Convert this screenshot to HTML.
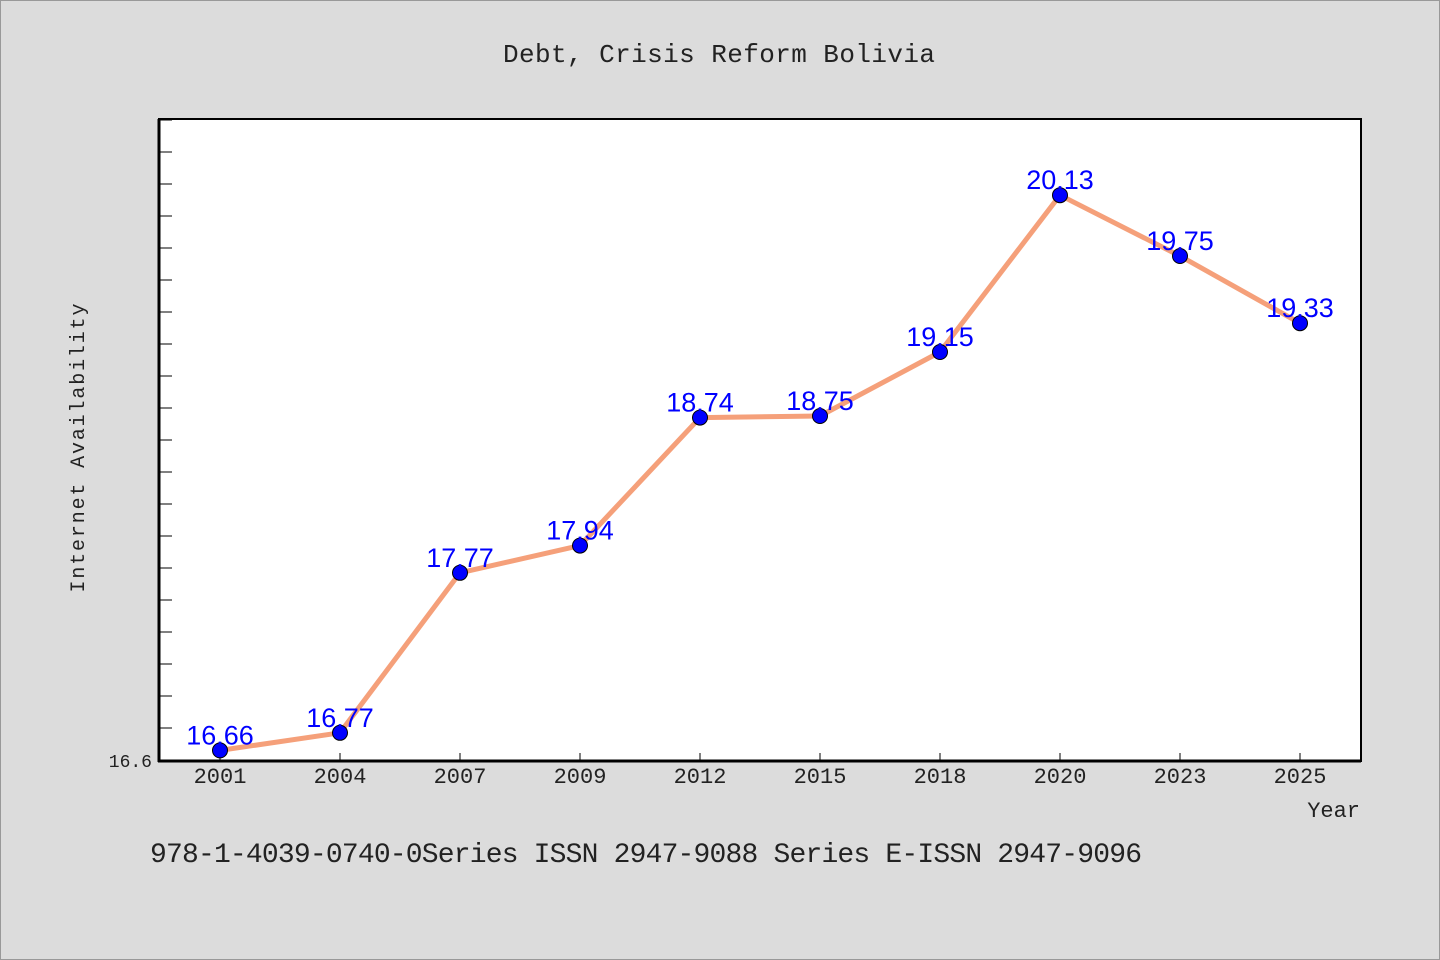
<!DOCTYPE html>
<html><head><meta charset="utf-8"><style>
html,body{margin:0;padding:0;background:#dcdcdc;}
svg{display:block;}
.m{font-family:"WenQuanYi Zen Hei","Liberation Mono",monospace;fill:#222;}
.lbl{font-family:"Liberation Sans","DejaVu Sans",sans-serif;fill:#0000ff;font-size:27px;}
</style></head><body>
<svg id="chart" width="1440" height="960" xmlns="http://www.w3.org/2000/svg">
<rect x="0.5" y="0.5" width="1439" height="959" fill="#dcdcdc" stroke="#999"/>
<text class="m" x="503" y="62" font-size="26" textLength="432">Debt, Crisis Reform Bolivia</text>
<rect x="159" y="119" width="1202" height="642" fill="#fff" stroke="#000" stroke-width="2"/>
<g id="yticks"></g>
<g id="xaxis"></g>
<line x1="159" y1="119" x2="159" y2="762" stroke="#000" stroke-width="3"/>
<line x1="158" y1="761" x2="1361" y2="761" stroke="#000" stroke-width="3"/>
<text class="m" x="152" y="767" font-size="18" text-anchor="end">16.6</text>
<text class="m" font-size="20" transform="translate(84,448) rotate(-90)" text-anchor="middle" textLength="289">Internet Availability</text>
<text class="m" x="1360" y="817" font-size="22" text-anchor="end">Year</text>
<g id="series"></g>
<text class="m" x="150" y="862" font-size="28" textLength="992">978-1-4039-0740-0Series ISSN 2947-9088 Series E-ISSN 2947-9096</text>
</svg>
<script>
const categories=["2001","2004","2007","2009","2012","2015","2018","2020","2023","2025"];
const values=[16.66,16.77,17.77,17.94,18.74,18.75,19.15,20.13,19.75,19.33];
const valueLabels=["16.66","16.77","17.77","17.94","18.74","18.75","19.15","20.13","19.75","19.33"];
const yMin=16.6,yMax=20.6,yStep=0.2;
const NS="http://www.w3.org/2000/svg";
const L=160,R=1360,T=120,B=760;
function x(i){return L+(R-L)/categories.length*(i+0.5);}
function y(v){return B-(v-yMin)/(yMax-yMin)*(B-T);}
function mk(t,a,p){const e=document.createElementNS(NS,t);for(const k in a)e.setAttribute(k,a[k]);p.appendChild(e);return e;}
const yt=document.getElementById('yticks');
for(let k=1;k*yStep<=yMax-yMin+1e-9;k++){const yy=y(yMin+k*yStep);const t=mk('line',{x1:159,x2:172,y1:yy,y2:yy,stroke:'#000','stroke-width':1},yt);

}
const xa=document.getElementById('xaxis');
categories.forEach((c,i)=>{const t=mk('line',{x1:x(i),x2:x(i),y1:753,y2:761,stroke:'#000','stroke-width':1},xa);


const tx=mk('text',{x:x(i),y:783,'font-size':22,'text-anchor':'middle',class:'m'},xa);tx.textContent=c;

});
const s=document.getElementById('series');
const pl=mk('polyline',{points:values.map((v,i)=>x(i)+','+y(v)).join(' '),fill:'none',stroke:'#f5a07a','stroke-width':5,'stroke-linejoin':'round'},s);


values.forEach((v,i)=>{const c=mk('circle',{cx:x(i),cy:y(v),r:7.5,fill:'#0000ff',stroke:'#000','stroke-width':1},s);


const t=mk('text',{x:x(i),y:y(v)-6,'text-anchor':'middle',class:'lbl'},s);t.textContent=valueLabels[i];

});
</script>
</body></html>
